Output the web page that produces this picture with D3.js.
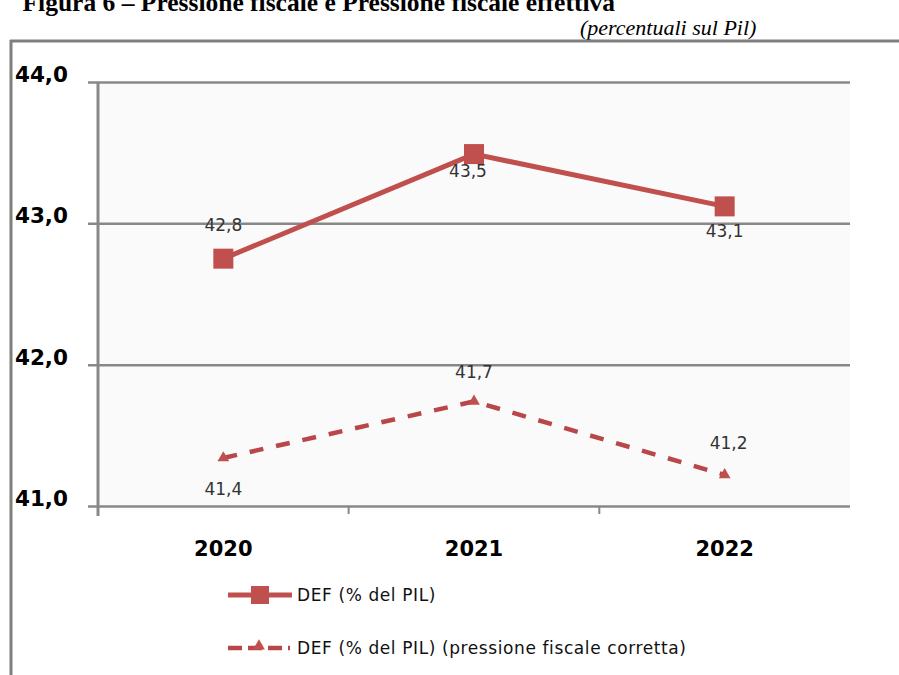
<!DOCTYPE html>
<html>
<head>
<meta charset="utf-8">
<script src="https://cdn.jsdelivr.net/npm/d3@7"></script>
<style>
    body { margin: 0; background: #fff; }
    svg { display: block; }
</style>
</head>
<body>
<svg id="chart" width="899" height="675"></svg>
<script>
var years = ["2020", "2021", "2022"];
var defValues = [42.75, 43.49, 43.12];
var defLabels = ["42,8", "43,5", "43,1"];
var corrValues = [41.34, 41.74, 41.22];
var corrLabels = ["41,4", "41,7", "41,2"];
var yTicks = [41, 42, 43, 44];
var legendNames = ["DEF (% del PIL)", "DEF (% del PIL) (pressione fiscale corretta)"];

var RED = "#c0504d";
var DASH_RED = "#b9474a";

let svg = d3.select("#chart");

// page heading, cut at the top like the scanned page
svg.append("text")
    .attr("x", 615).attr("y", 11)
    .attr("text-anchor", "end")
    .style("font-family", "'Liberation Serif', serif")
    .style("font-weight", "bold")
    .style("font-size", "25.5px")
    .text("Figura 6 – Pressione fiscale e Pressione fiscale effettiva");

svg.append("text")
    .attr("x", 580).attr("y", 35)
    .style("font-family", "'Liberation Serif', serif")
    .style("font-style", "italic")
    .style("font-size", "22px")
    .text("(percentuali sul Pil)");

svg.append("line").attr("x1", 10).attr("x2", 899).attr("y1", 41).attr("y2", 41)
    .attr("stroke", "#7f7f7f").attr("stroke-width", 3);
svg.append("line").attr("x1", 11).attr("x2", 11).attr("y1", 40).attr("y2", 675)
    .attr("stroke", "#7f7f7f").attr("stroke-width", 3);

// plot
let x = d3.scaleBand().domain(years).range([98, 850]);
let y = d3.scaleLinear().domain([41, 44]).range([506, 82]);

svg.append("rect")
    .attr("x", 98).attr("y", 82)
    .attr("width", 752).attr("height", 424)
    .attr("fill", "#fafafa");

let yAxis = svg.append("g")
    .attr("transform", "translate(98,0)")
    .call(d3.axisLeft(y).tickValues(yTicks).tickSize(-752).tickSizeOuter(0)
        .tickFormat(d => d.toFixed(1).replace(".", ",")));
yAxis.select(".domain").remove();
yAxis.selectAll(".tick line")
    .attr("x1", -10)
    .attr("stroke", "#888").attr("stroke-width", 2.5);
yAxis.selectAll(".tick text")
    .attr("x", -30).attr("dy", "-0.02em")
    .attr("fill", "#000")
    .style("font-family", "'DejaVu Sans', sans-serif")
    .style("font-weight", "bold")
    .style("font-size", "21.5px");

svg.append("line").attr("x1", 98).attr("x2", 98).attr("y1", 82).attr("y2", 516)
    .attr("stroke", "#888").attr("stroke-width", 3);

let xAxis = svg.append("g")
    .attr("transform", "translate(0,506)")
    .call(d3.axisBottom(x).tickSize(0).tickPadding(35));
xAxis.select(".domain").remove();
xAxis.selectAll(".tick text")
    .attr("fill", "#000")
    .style("font-family", "'DejaVu Sans', sans-serif")
    .style("font-weight", "bold")
    .style("font-size", "21px");

// category separators below the axis
svg.append("g").selectAll("line")
    .data(years.slice(1))
    .enter().append("line")
    .attr("x1", d => x(d)).attr("x2", d => x(d))
    .attr("y1", 506).attr("y2", 514)
    .attr("stroke", "#888").attr("stroke-width", 2);

let cx = d => x(d) + x.bandwidth() / 2;

let line = d3.line()
    .x((d, i) => cx(years[i]))
    .y(d => y(d));

// dashed series
svg.append("path")
    .datum(corrValues)
    .attr("fill", "none")
    .attr("stroke", DASH_RED)
    .attr("stroke-width", 4.5)
    .attr("stroke-dasharray", "14,13")
    .attr("d", line);

let tri = d3.symbol().type(d3.symbolTriangle).size(60);
svg.append("g").selectAll("path")
    .data(corrValues)
    .enter().append("path")
    .attr("d", tri)
    .attr("transform", (d, i) => "translate(" + cx(years[i]) + "," + y(d) + ")")
    .attr("fill", RED);

// solid series
svg.append("path")
    .datum(defValues)
    .attr("fill", "none")
    .attr("stroke", RED)
    .attr("stroke-width", 5)
    .attr("d", line);

svg.append("g").selectAll("rect")
    .data(defValues)
    .enter().append("rect")
    .attr("x", (d, i) => cx(years[i]) - 10)
    .attr("y", d => y(d) - 10)
    .attr("width", 20).attr("height", 20)
    .attr("fill", RED);

// data labels
let labelStyle = sel => sel
    .attr("text-anchor", "middle")
    .attr("fill", "#333")
    .style("font-family", "'DejaVu Sans', sans-serif")
    .style("font-size", "17px");

let defShift = [-28, 23, 31];
let corrShift = [37, -23, -26];

svg.append("g").selectAll("text")
    .data(defValues)
    .enter().append("text")
    .attr("x", (d, i) => cx(years[i]) - (i == 1 ? 6 : 0))
    .attr("y", (d, i) => y(d) + defShift[i])
    .call(labelStyle)
    .text((d, i) => defLabels[i]);

svg.append("g").selectAll("text")
    .data(corrValues)
    .enter().append("text")
    .attr("x", (d, i) => cx(years[i]) + (i == 2 ? 4 : 0))
    .attr("y", (d, i) => y(d) + corrShift[i])
    .call(labelStyle)
    .text((d, i) => corrLabels[i]);

// legend
let legend = svg.append("g");
legend.append("line").attr("x1", 228).attr("x2", 292).attr("y1", 595).attr("y2", 595)
    .attr("stroke", RED).attr("stroke-width", 5);
legend.append("rect").attr("x", 251).attr("y", 586).attr("width", 18).attr("height", 18)
    .attr("fill", RED);
legend.append("line").attr("x1", 228).attr("x2", 290).attr("y1", 648).attr("y2", 648)
    .attr("stroke", DASH_RED).attr("stroke-width", 4.5).attr("stroke-dasharray", "14,6");
legend.append("path").attr("d", tri)
    .attr("transform", "translate(259,646)")
    .attr("fill", RED);

legend.selectAll("text")
    .data(legendNames)
    .enter().append("text")
    .attr("x", 297)
    .attr("y", (d, i) => 601 + i * 53)
    .attr("fill", "#111")
    .style("font-family", "'DejaVu Sans', sans-serif")
    .style("font-size", "17px")
    .style("letter-spacing", "0.6px")
    .text(d => d);
</script>
</body>
</html>
